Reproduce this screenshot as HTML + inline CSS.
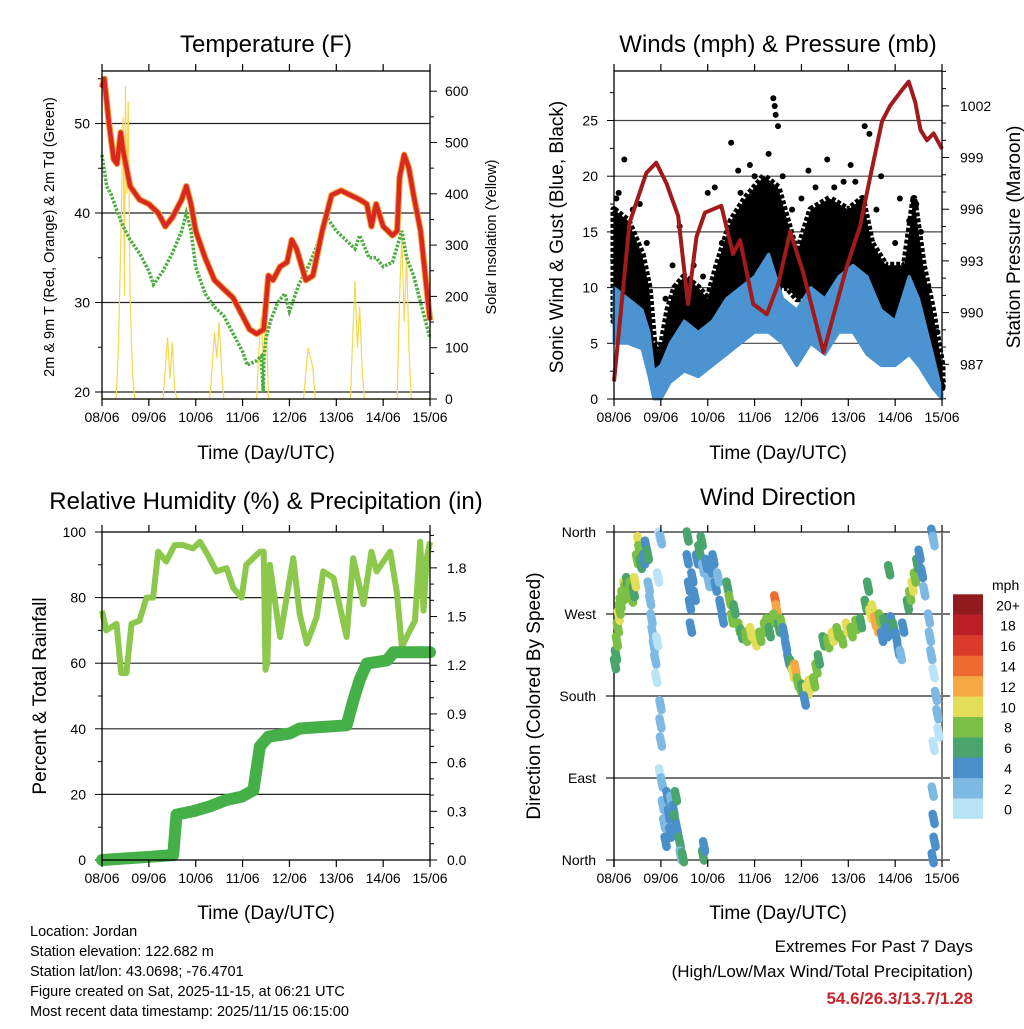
<!DOCTYPE html>
<html><head><meta charset="utf-8"><style>
html,body{margin:0;padding:0;background:#fff}
svg text{font-family:"Liberation Sans",Arial,sans-serif;fill:#000}
</style></head><body>
<svg id="chart" width="1024" height="1024" viewBox="0 0 1024 1024" xmlns="http://www.w3.org/2000/svg">
<rect width="1024" height="1024" fill="#fff"/>
<text x="266" y="52" font-size="24" text-anchor="middle">Temperature (F)</text>
<text x="778" y="52" font-size="24" text-anchor="middle">Winds (mph) &amp; Pressure (mb)</text>
<text x="266" y="509" font-size="24" text-anchor="middle">Relative Humidity (%) &amp; Precipitation (in)</text>
<text x="778" y="505" font-size="24" text-anchor="middle">Wind Direction</text>
<text x="266" y="459" font-size="19" text-anchor="middle">Time (Day/UTC)</text>
<text x="778" y="459" font-size="19" text-anchor="middle">Time (Day/UTC)</text>
<text x="266" y="919" font-size="19" text-anchor="middle">Time (Day/UTC)</text>
<text x="778" y="919" font-size="19" text-anchor="middle">Time (Day/UTC)</text>
<text transform="translate(54,237) rotate(-90)" font-size="14.5" text-anchor="middle">2m &amp; 9m T (Red, Orange) &amp; 2m Td (Green)</text>
<text transform="translate(496,237) rotate(-90)" font-size="14.5" text-anchor="middle">Solar Insolation (Yellow)</text>
<text transform="translate(563,237) rotate(-90)" font-size="19" text-anchor="middle">Sonic Wind &amp; Gust (Blue, Black)</text>
<text transform="translate(1020,237) rotate(-90)" font-size="19" text-anchor="middle">Station Pressure (Maroon)</text>
<text transform="translate(46,696) rotate(-90)" font-size="19" text-anchor="middle">Percent &amp; Total Rainfall</text>
<text transform="translate(540,696) rotate(-90)" font-size="19" text-anchor="middle">Direction (Colored By Speed)</text>
<g font-size="14.5">
<text x="30" y="936">Location: Jordan</text>
<text x="30" y="956">Station elevation: 122.682 m</text>
<text x="30" y="976">Station lat/lon: 43.0698; -76.4701</text>
<text x="30" y="996">Figure created on Sat, 2025-11-15, at 06:21 UTC</text>
<text x="30" y="1016">Most recent data timestamp: 2025/11/15 06:15:00</text>
</g>
<g text-anchor="end">
<text x="973" y="952" font-size="17">Extremes For Past 7 Days</text>
<text x="973" y="977" font-size="17">(High/Low/Max Wind/Total Precipitation)</text>
<text x="973" y="1004" font-size="17" font-weight="bold" style="fill:#c8242b">54.6/26.3/13.7/1.28</text>
</g>
<g id="layer"></g>
</svg>
<script>
// ---------- data ----------
const dayLabels = ["08/06","09/06","10/06","11/06","12/06","13/06","14/06","15/06"];
const tempT = [0,0.05,0.15,0.25,0.32,0.4,0.45,0.6,0.8,1.0,1.2,1.35,1.5,1.7,1.8,1.9,2.0,2.2,2.4,2.6,2.8,3.0,3.15,3.3,3.45,3.5,3.55,3.65,3.8,3.95,4.05,4.15,4.35,4.5,4.7,4.9,5.1,5.3,5.5,5.65,5.75,5.85,6.0,6.2,6.3,6.35,6.45,6.55,6.65,6.8,6.9,7.0];
const tempV = [54,55,50,46,45.5,49,47,43,41.5,41,40,38.5,39.5,41.5,43,41,38,35,32.5,31.5,30.5,28.5,27,26.5,27,30,33,32.5,34,34.5,37,36,32.5,33,38,42,42.5,42,41.5,41,38.5,41,38.5,37.5,38,44,46.5,45,42,38,33,28];
const dewT = [0,0.1,0.2,0.3,0.45,0.6,0.8,1.0,1.1,1.3,1.5,1.7,1.8,1.9,2.0,2.2,2.4,2.6,2.8,3.0,3.1,3.3,3.4,3.44,3.46,3.5,3.6,3.75,3.9,4.0,4.2,4.4,4.6,4.8,5.0,5.2,5.4,5.5,5.7,5.85,6.0,6.2,6.4,6.5,6.65,6.8,6.9,7.0];
const dewV = [46.5,43,42,40.5,38.5,37,35.5,33.5,32,33.5,35.5,38,40,38,34,31,29.5,28.5,26.5,24.5,23,23.5,24,20,24,26,28,30,31,29,32,34,36.5,39.5,38,37,36,37.5,35,35,34,34.5,38,35,33,30,28,26];
const solarT = [0,0.3,0.35,0.4,0.45,0.48,0.5,0.53,0.56,0.6,0.65,0.7,1.3,1.35,1.4,1.45,1.5,1.55,1.6,2.3,2.35,2.4,2.45,2.5,2.55,2.6,3.3,3.35,3.4,3.45,3.5,3.55,4.3,4.35,4.4,4.5,4.55,5.3,5.35,5.4,5.45,5.5,5.55,5.6,6.3,6.35,6.4,6.45,6.5,6.55,6.6,7];
const solarV = [0,0,100,300,550,200,610,400,580,200,50,0,0,60,120,40,110,20,0,0,60,130,80,150,60,0,0,100,160,60,200,0,0,50,100,60,0,0,120,230,100,180,60,0,0,200,320,150,280,100,0,0];
const presT = [0,0.33,0.69,0.9,1.12,1.37,1.58,1.76,1.94,2.29,2.54,2.69,2.97,3.26,3.51,3.76,4.04,4.47,4.68,4.97,5.25,5.47,5.72,5.89,6.14,6.29,6.43,6.54,6.68,6.82,7.0];
const presV = [986,995.2,998.1,998.7,997.5,995.6,990.5,994.4,995.8,996.2,993.4,994.2,990.5,989.9,991.7,994.7,992.3,987.7,989.8,992.7,995,997.9,1001.1,1002,1002.9,1003.4,1002.2,1000.6,1000,1000.4,999.5];
const gustT = [0,0.3,0.6,0.75,0.85,1.0,1.15,1.3,1.5,1.8,2.0,2.2,2.5,2.8,3.2,3.5,3.7,3.9,4.2,4.6,5.0,5.3,5.5,5.8,6.2,6.4,6.6,6.8,7.0];
const gustHi = [17,16,13,10,5,4.5,8,10,11,10,9,12,16,18,20,19,16,13,17,18,17,18,14,12,12,18,12,8,3];
const gustLo = [7,9,7,5,1.5,1,3,5,5,5,6,6,8,10,11,10,10,9,9,9,10,9,9,7,6,9,6,4,1];
const gustOutT = [0.22,0.55,2.0,2.5,2.65,3.4,3.43,3.45,3.5,4.15,4.55,5.05,5.35,5.45,6.1,6.45,2.15,3.0,3.6,0.1,1.4,2.9,4.0,4.9,5.7,6.3,0.05,0.4,0.7,1.1,1.25,1.7,1.9,2.3,2.7,3.3,3.8,4.3,4.7,5.15,5.6,6.0,6.55,6.7,6.9];
const gustOutV = [21.5,17.5,18.5,23,20.5,27,26.3,25.5,24.5,20.5,21.5,21,24.5,23.8,18,17.5,19,20,20,18.5,15.5,21,18,19.5,20,16,18,17,14,9,12,12,11,14,18.5,22,17,19,19,19.5,17,14,15,10,6];
const sonicT = [0,0.3,0.6,0.75,0.85,1.0,1.2,1.5,1.8,2.1,2.4,2.7,3.0,3.3,3.6,3.9,4.2,4.5,4.8,5.1,5.4,5.7,6.0,6.3,6.5,6.8,7.0];
const sonicHi = [10,9,8,6,2.5,3,5,7,6,7,9,10,11,13,9,8,10,9,11,12,11,8,7,11,9,4,0.5];
const sonicLo = [5,5,4.5,2,0,0,1.5,2.5,2,3,4,5,6,6,5,3,5,4,6,6,4,3,3,4,3,1,0];
const rhT = [0,0.09,0.31,0.41,0.52,0.63,0.8,0.95,1.09,1.2,1.37,1.55,1.73,1.94,2.09,2.26,2.44,2.66,2.8,2.98,3.08,3.37,3.45,3.49,3.53,3.58,3.8,4.08,4.22,4.37,4.58,4.72,4.94,5.22,5.36,5.58,5.75,5.86,6.15,6.29,6.4,6.57,6.68,6.79,6.86,6.93,7.0];
const rhV = [76,70,72,57,57,72,73,80,80,94,91,96,96,95,97,93,88,89,83,80,90,94,94,58,60,90,68,92,75,66,74,88,86,68,92,78,94,88,94,82,65,70,73,97,76,92,97];
const rainT = [0,1.02,1.52,1.59,1.94,2.3,2.66,2.98,3.23,3.37,3.55,4.01,4.22,5.22,5.36,5.5,5.65,6.08,6.22,7.0];
const rainV = [0,0.02,0.03,0.28,0.3,0.33,0.37,0.39,0.43,0.7,0.76,0.78,0.81,0.83,0.98,1.11,1.21,1.23,1.28,1.28];
const dirT = [0,0.02,0.04,0.06,0.08,0.1,0.12,0.16,0.2,0.22,0.26,0.3,0.33,0.36,0.4,0.43,0.47,0.5,0.52,0.55,0.58,0.62,0.66,0.7,0.72,0.75,0.78,0.8,0.83,0.86,0.88,0.9,0.92,0.95,0.98,0.97,0.97,0.98,0.96,1.0,1.02,1.05,1.08,1.12,1.15,1.18,1.2,1.25,1.28,1.3,1.32,1.38,1.4,1.45,1.88,1.9,1.55,1.55,1.58,1.6,1.62,1.65,1.7,1.75,1.8,1.85,1.88,1.95,2.0,2.05,2.1,2.15,2.2,2.25,2.3,2.4,2.45,2.5,2.55,2.65,2.7,2.8,2.9,3.0,3.1,3.2,3.25,3.3,3.42,3.45,3.4,3.5,3.55,3.6,3.65,3.7,3.75,3.8,3.85,3.9,3.95,4.0,4.1,4.15,4.05,4.25,4.3,4.35,4.45,4.55,4.65,4.75,4.85,4.95,5.05,5.15,5.25,5.35,5.4,5.45,5.5,5.55,5.6,5.65,5.7,5.75,5.8,5.9,5.95,6.0,6.05,6.1,6.15,5.85,6.25,6.3,6.35,6.4,6.45,6.5,6.55,6.6,6.7,6.72,6.75,6.8,6.85,6.88,6.9,6.8,6.78,6.8,6.82,6.78,6.77,6.8];
const dirD = [215,225,240,255,268,275,282,290,300,296,305,292,300,288,294,305,330,350,340,325,338,330,345,335,300,285,265,250,235,220,200,240,310,355,352,170,150,130,95,85,60,40,20,70,50,30,65,55,45,70,35,20,5,3,5,15,355,330,300,280,255,310,290,330,340,350,320,325,305,320,330,300,310,280,265,300,285,265,275,255,248,245,250,240,245,255,260,250,285,275,265,255,260,250,235,220,215,205,210,195,190,188,186,192,175,195,210,220,240,238,245,250,242,255,250,258,260,280,300,270,275,262,255,265,245,260,250,262,255,245,230,225,255,318,280,290,300,310,325,335,315,295,265,245,225,205,180,160,140,125,75,45,20,2,358,350];
const dirS = [6,6,8,8,10,8,8,8,10,8,6,8,8,8,6,10,8,10,8,6,8,4,4,6,2,2,2,2,2,2,0,0,0,0,2,2,2,2,0,2,2,2,4,4,4,4,2,4,6,6,4,6,2,6,6,4,6,4,4,4,4,4,4,4,6,6,2,4,2,4,4,4,2,4,4,6,8,8,6,8,6,8,10,10,8,8,8,6,14,12,8,6,8,4,4,4,6,10,12,8,8,6,10,10,4,8,8,6,6,8,10,8,8,10,8,8,6,6,6,10,10,12,12,8,4,6,4,4,6,4,4,2,4,6,6,8,10,8,6,4,4,2,2,2,2,0,2,2,0,0,2,4,4,4,4,2];
const legendLabels = ["0","2","4","6","8","10","12","14","16","18","20+"];
const legendColors = ["#b9e3f7","#7eb9e3","#4a8fc9","#4aa56c","#7cbf45","#e3dd58","#f5a843","#ef6a2f","#dc3a2a","#bd1f26","#921a1c"];

// ---------- helpers ----------
const NS = "http://www.w3.org/2000/svg";
const layer = document.getElementById("layer");
function mk(tag, attrs, parent){
  const e = document.createElementNS(NS, tag);
  for (const k in attrs) e.setAttribute(k, attrs[k]);
  (parent || layer).appendChild(e);
  return e;
}
function grp(name){
  const g = mk("g", {});
  
  
  return g;
}
function lbl(g, x, y, s, anchor, size){
  const t = mk("text", {x:x, y:y, "font-size":size||14, "text-anchor":anchor}, g);
  t.textContent = s;
  return t;
}
function pathOf(xs, ys, fx, fy){
  return xs.map((v,i)=>(i?"L":"M")+fx(v).toFixed(1)+","+fy(ys[i]).toFixed(1)).join("");
}
function bandOf(xs, hi, lo, fx, fy){
  let d = xs.map((v,i)=>(i?"L":"M")+fx(v).toFixed(1)+","+fy(hi[i]).toFixed(1)).join("");
  for (let i=xs.length-1;i>=0;i--) d += "L"+fx(xs[i]).toFixed(1)+","+fy(lo[i]).toFixed(1);
  return d+"Z";
}
function xTicks(g, x0, yb, yt, fx){
  dayLabels.forEach((s,i)=>{
    const x = fx(i);
    mk("line",{x1:x,x2:x,y1:yb,y2:yb+7,stroke:"#000","stroke-width":1.2},g);
    mk("line",{x1:x,x2:x,y1:yt,y2:yt-7,stroke:"#000","stroke-width":1.2},g);
    lbl(g, x, yb+23, s, "middle", 14);
  });
}

// ---------- Panel 1: temperature ----------
{
  const X0=102, X1=430, Y0=71, Y1=399;
  const fx = t => X0 + t*46.86;
  const fy = v => 392 - (v-20)*8.95;
  const fr = v => 399 - v*0.513;
  const g = grp("temperature-panel");
  [20,30,40,50].forEach(v=>{
    const l = mk("line",{x1:X0,x2:X1,y1:fy(v),y2:fy(v),stroke:"#222","stroke-width":1.2},g);
    
    
    lbl(g, X0-12, fy(v)+5, String(v), "end", 14);
    mk("line",{x1:X0-7,x2:X0,y1:fy(v),y2:fy(v),stroke:"#000"},g);
  });
  [25,35,45,55].forEach(v=>mk("line",{x1:X0-4,x2:X0,y1:fy(v),y2:fy(v),stroke:"#000"},g));
  for (let v=0; v<=600; v+=50){
    mk("line",{x1:X1,x2:X1+(v%100?4:7),y1:fr(v),y2:fr(v),stroke:"#000"},g);
    if (v%100===0) lbl(g, X1+15, fr(v)+5, String(v), "start", 14);
  }
  const solar = mk("path",{d:pathOf(solarT,solarV,fx,fr),fill:"none",stroke:"#f6d84e","stroke-width":1.2},g);
  
  
  const dew = mk("path",{d:pathOf(dewT,dewV,fx,fy),fill:"none",stroke:"#4cae3e","stroke-width":3.5,"stroke-dasharray":"2.5 1.5"},g);
  
  
  const t9 = mk("path",{d:pathOf(tempT,tempV,fx,fy),fill:"none",stroke:"#f0a53a","stroke-width":6.5,"stroke-linejoin":"round"},g);
  
  
  const t2 = mk("path",{d:pathOf(tempT,tempV,fx,fy),fill:"none",stroke:"#d8281f","stroke-width":4.5,"stroke-linejoin":"round"},g);
  
  
  const fr1 = mk("rect",{x:X0,y:Y0,width:X1-X0,height:Y1-Y0,fill:"none",stroke:"#000","stroke-width":1.3},g);
  
  
  xTicks(g, X0, Y1, Y0, fx);
}

// ---------- Panel 2: winds & pressure ----------
{
  const X0=614, X1=942, Y0=71, Y1=399;
  const fx = t => X0 + t*46.86;
  const fy = v => 399 - v*11.14;
  const fp = p => 364.3 - (p-987)*17.23;
  const g = grp("winds-panel");
  [5,10,15,20,25].forEach(v=>{
    const l = mk("line",{x1:X0,x2:X1,y1:fy(v),y2:fy(v),stroke:"#444","stroke-width":1.2},g);
    
    
  });
  [0,5,10,15,20,25].forEach(v=>{ mk("line",{x1:X0-7,x2:X0,y1:fy(v),y2:fy(v),stroke:"#000"},g); lbl(g, X0-16, fy(v)+5, String(v), "end", 14); });
  [2.5,7.5,12.5,17.5,22.5,27.5].forEach(v=>mk("line",{x1:X0-4,x2:X0,y1:fy(v),y2:fy(v),stroke:"#000"},g));
  for (let p=985; p<=1004; p++){
    const major = (p-987)%3===0;
    mk("line",{x1:X1,x2:X1+(major?7:4),y1:fp(p),y2:fp(p),stroke:"#000"},g);
    if (major) lbl(g, X1+18, fp(p)+5, String(p), "start", 14);
  }
  const gust = mk("path",{d:bandOf(gustT,gustHi,gustLo,fx,fy),fill:"#000",stroke:"#000","stroke-width":7,"stroke-linejoin":"round","stroke-dasharray":"4 2"},g);
  
  
  gustOutT.forEach((t,i)=>{
    const c = mk("circle",{cx:fx(t),cy:fy(gustOutV[i]),r:3,fill:"#000"},g);
    
    
  });
  const sonic = mk("path",{d:bandOf(sonicT,sonicHi,sonicLo,fx,fy),fill:"#4b94d1",stroke:"#4b94d1","stroke-width":3,"stroke-linejoin":"round"},g);
  
  
  const pres = mk("path",{d:pathOf(presT,presV,fx,fp),fill:"none",stroke:"#a11a1c","stroke-width":4,"stroke-linejoin":"round"},g);
  
  
  const fr2 = mk("rect",{x:X0,y:Y0,width:X1-X0,height:Y1-Y0,fill:"none",stroke:"#000","stroke-width":1.3},g);
  
  
  xTicks(g, X0, Y1, Y0, fx);
}

// ---------- Panel 3: humidity & precip ----------
{
  const X0=102, X1=430, Y0=532, Y1=860;
  const fx = t => X0 + t*46.86;
  const fy = v => 860 - v*3.28;
  const fr = p => 860 - p*162.3;
  const g = grp("humidity-panel");
  [20,40,60,80].forEach(v=>{
    const l = mk("line",{x1:X0,x2:X1,y1:fy(v),y2:fy(v),stroke:"#222","stroke-width":1.2},g);
    
    
  });
  for (let v=0; v<=100; v+=10){
    mk("line",{x1:X0-(v%20?4:7),x2:X0,y1:fy(v),y2:fy(v),stroke:"#000"},g);
    if (v%20===0) lbl(g, X0-16, fy(v)+5, String(v), "end", 14);
  }
  for (let k=0; k<=20; k++){
    const p = k/10;
    mk("line",{x1:X1,x2:X1+(k%3?4:7),y1:fr(p),y2:fr(p),stroke:"#000"},g);
    if (k%3===0) lbl(g, X1+17, fr(p)+5, p.toFixed(1), "start", 14);
  }
  const rh = mk("path",{d:pathOf(rhT,rhV,fx,fy),fill:"none",stroke:"#8cc84b","stroke-width":6,"stroke-linejoin":"round"},g);
  
  
  const rain = mk("path",{d:pathOf(rainT,rainV,fx,fr),fill:"none",stroke:"#45b048","stroke-width":12,"stroke-linejoin":"round","stroke-linecap":"round"},g);
  
  
  const fr3 = mk("rect",{x:X0,y:Y0,width:X1-X0,height:Y1-Y0,fill:"none",stroke:"#000","stroke-width":1.3},g);
  
  
  xTicks(g, X0, Y1, Y0, fx);
}

// ---------- Panel 4: wind direction ----------
{
  const X0=614, X1=942, Y0=532, Y1=860;
  const fx = t => X0 + t*46.86;
  const fy = d => 860 - d/360*328;
  const g = grp("wind-direction-panel");
  const names = ["North","East","South","West","North"];
  [0,90,180,270,360].forEach((d,i)=>{
    const l = mk("line",{x1:606,x2:950,y1:fy(d),y2:fy(d),stroke:"#222","stroke-width":1.2},g);
    
    
    lbl(g, 596, fy(d)+5, names[i], "end", 14);
  });
  const ax = mk("line",{x1:X0,x2:X0,y1:Y0,y2:Y1+7,stroke:"#000","stroke-width":1.3},g);
  
  
  const rb = mk("line",{x1:X1,x2:X1,y1:Y0,y2:Y1,stroke:"#777","stroke-width":2},g);
  
  
  dirT.forEach((t,i)=>{
    const ci = Math.min(10, Math.floor(dirS[i]/2));
    const x = fx(t), y = fy(dirD[i]);
    const c = mk("line",{x1:x,x2:x+2,y1:y-5,y2:y+5,stroke:legendColors[ci],"stroke-width":8.5,"stroke-linecap":"round"},g);
    
    
  });
  xTicks(g, X0, Y1, Y0, fx);
  const lg = grp("speed-legend");
  lbl(lg, 992, 590, "mph", "start", 14);
  legendLabels.forEach((s,i)=>{
    const y = 818.7 - (i+1)*20.4;
    const r = mk("rect",{x:953,y:y,width:30,height:20.6,fill:legendColors[i]},lg);
    
    
    lbl(lg, 1008, y+16, s, "middle", 14);
  });
}
</script>
</body></html>
